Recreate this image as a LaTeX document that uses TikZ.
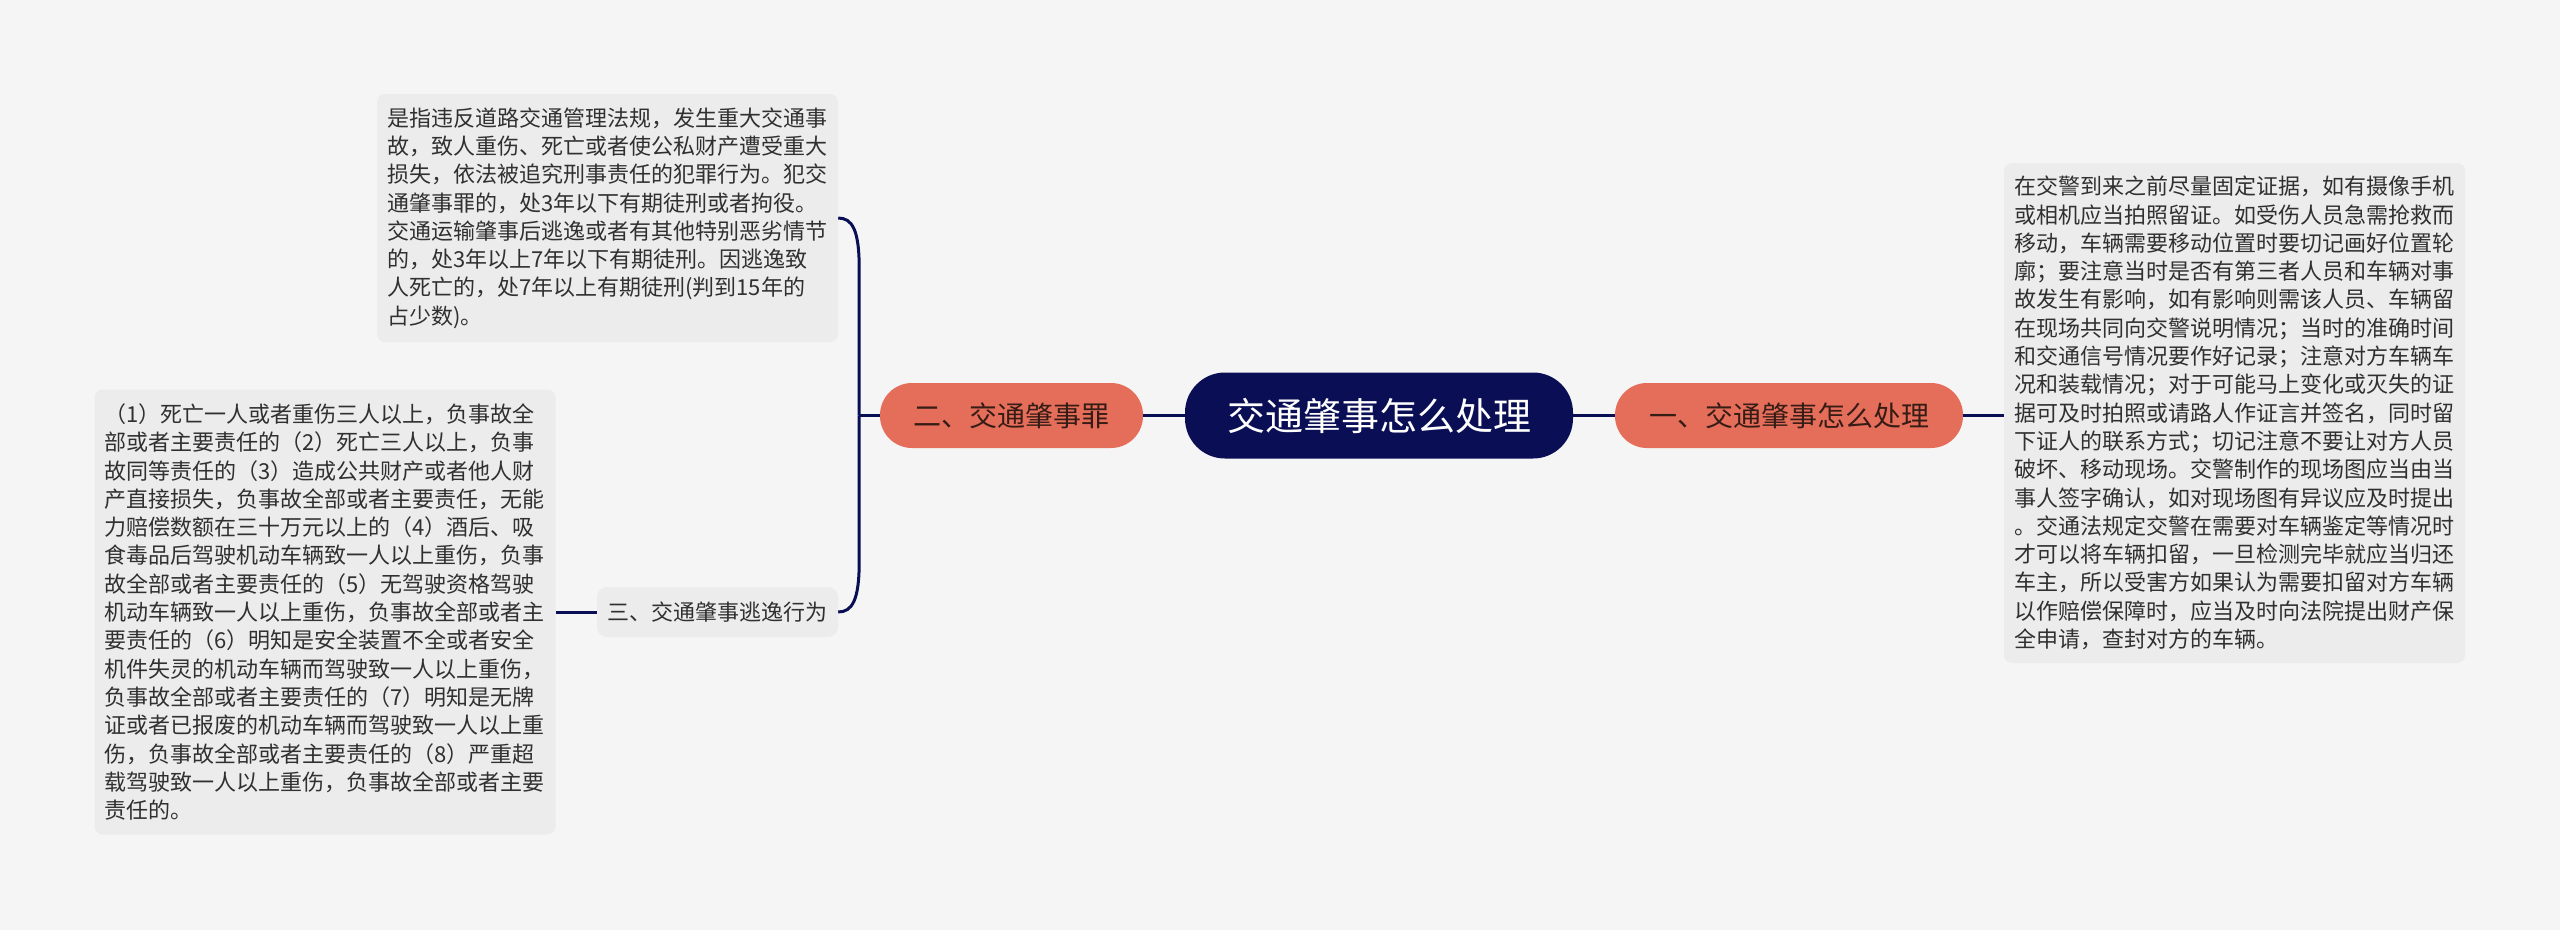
\documentclass[tikz,border=0pt]{standalone}
\usepackage{fontspec}
\setmainfont{Noto Sans CJK SC}
\usetikzlibrary{calc}
\definecolor{bgc}{RGB}{245,245,245}
\definecolor{boxgray}{RGB}{236,236,236}
\definecolor{navy}{RGB}{10,14,84}
\definecolor{coral}{RGB}{228,110,90}
\definecolor{coraltext}{RGB}{55,28,22}
\definecolor{textgray}{RGB}{48,48,48}
\begin{document}
\begin{tikzpicture}[x=1pt,y=-1pt,
  txt/.style={font=\fontsize{22}{28.3}\selectfont, text=textgray},
  box/.style={txt, fill=boxgray, rounded corners=8pt, text width=441pt, align=left, inner xsep=10pt, inner ysep=0pt},
  rootbox/.style={fill=navy, text=white, rounded corners=40pt, font=\fontsize{38}{44}\selectfont, minimum width=388pt, minimum height=86pt, inner sep=0pt},
  branch/.style={fill=coral, text=coraltext, rounded corners=32pt, font=\fontsize{28}{34}\selectfont, minimum height=65pt, inner sep=0pt},
  leaf/.style={txt, fill=boxgray, rounded corners=10pt, minimum width=241pt, minimum height=50pt, inner sep=0pt},
  link/.style={draw=navy, line width=3pt}]
\fill[bgc] (0,0) rectangle (2560,930);
\useasboundingbox (0,0) rectangle (2560,930);

\node[rootbox] (root) at (1379,415.5) {交通肇事怎么处理};
\node[branch, minimum width=348pt] (b1) at (1789,415.5) {一、交通肇事怎么处理};
\node[branch, minimum width=263pt] (b2) at (1011.5,415.5) {二、交通肇事罪};

\node[box, minimum height=500pt] (t1) at (2234.5,413) {在交警到来之前尽量固定证据，如有摄像手机\\或相机应当拍照留证。如受伤人员急需抢救而\\移动，车辆需要移动位置时要切记画好位置轮\\廓；要注意当时是否有第三者人员和车辆对事\\故发生有影响，如有影响则需该人员、车辆留\\在现场共同向交警说明情况；当时的准确时间\\和交通信号情况要作好记录；注意对方车辆车\\况和装载情况；对于可能马上变化或灭失的证\\据可及时拍照或请路人作证言并签名，同时留\\下证人的联系方式；切记注意不要让对方人员\\破坏、移动现场。交警制作的现场图应当由当\\事人签字确认，如对现场图有异议应及时提出\\。交通法规定交警在需要对车辆鉴定等情况时\\才可以将车辆扣留，一旦检测完毕就应当归还\\车主，所以受害方如果认为需要扣留对方车辆\\以作赔偿保障时，应当及时向法院提出财产保\\全申请，查封对方的车辆。};

\node[box, minimum height=248pt] (t2) at (607.5,218) {是指违反道路交通管理法规，发生重大交通事\\故，致人重伤、死亡或者使公私财产遭受重大\\损失，依法被追究刑事责任的犯罪行为。犯交\\通肇事罪的，处3年以下有期徒刑或者拘役。\\交通运输肇事后逃逸或者有其他特别恶劣情节\\的，处3年以上7年以下有期徒刑。因逃逸致\\人死亡的，处7年以上有期徒刑(判到15年的\\占少数)。};

\node[leaf] (b3) at (717.5,612) {三、交通肇事逃逸行为};

\node[box, minimum height=445pt] (t3) at (325,612) {（1）死亡一人或者重伤三人以上，负事故全\\部或者主要责任的（2）死亡三人以上，负事\\故同等责任的（3）造成公共财产或者他人财\\产直接损失，负事故全部或者主要责任，无能\\力赔偿数额在三十万元以上的（4）酒后、吸\\食毒品后驾驶机动车辆致一人以上重伤，负事\\故全部或者主要责任的（5）无驾驶资格驾驶\\机动车辆致一人以上重伤，负事故全部或者主\\要责任的（6）明知是安全装置不全或者安全\\机件失灵的机动车辆而驾驶致一人以上重伤，\\负事故全部或者主要责任的（7）明知是无牌\\证或者已报废的机动车辆而驾驶致一人以上重\\伤，负事故全部或者主要责任的（8）严重超\\载驾驶致一人以上重伤，负事故全部或者主要\\责任的。};

\coordinate (fork) at (859,415.5);

\draw[link] (root.west) -- (b2.east);
\draw[link] (root.east) -- (b1.west);
\draw[link] (b1.east) -- (b1.east -| t1.west);
\draw[link] (b2.west) -- (fork);
\draw[link] (fork) -- ($(t2.east)+(21,50)$) .. controls ($(t2.east)+(21,12)$) and ($(t2.east)+(14,0)$) .. (t2.east);
\draw[link] (fork) -- ($(b3.east)+(21,-50)$) .. controls ($(b3.east)+(21,-12)$) and ($(b3.east)+(14,0)$) .. (b3.east);
\draw[link] (t3.east) -- (b3.west);
\end{tikzpicture}
\end{document}
